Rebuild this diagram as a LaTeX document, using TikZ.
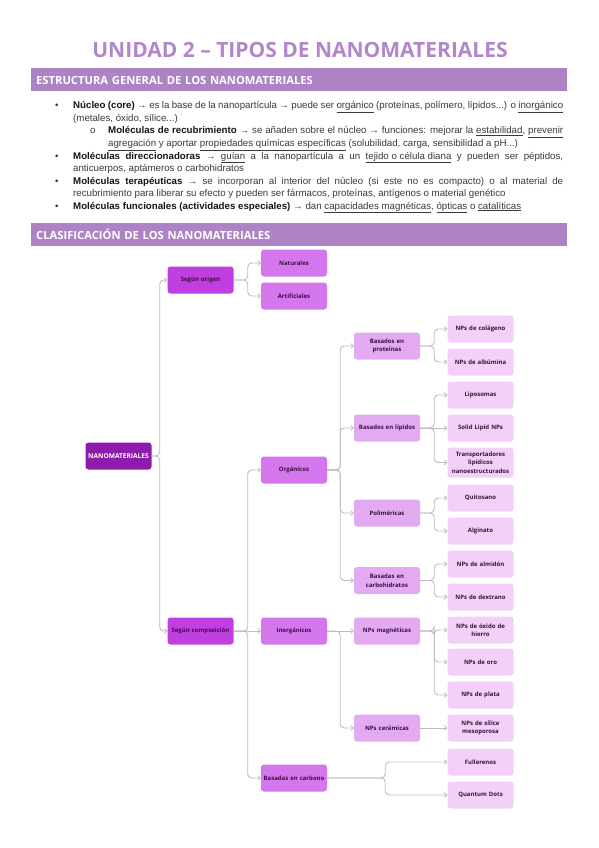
\documentclass[tikz,border=0pt]{standalone}
\usepackage{fontspec}
\setmainfont{Liberation Sans}
\newfontfamily\titlefont{Open Sans}
\newfontfamily\boxfont{Open Sans}
\usetikzlibrary{arrows.meta}
\definecolor{titlecol}{HTML}{B386CB}
\definecolor{barcol}{HTML}{AD83C6}
\definecolor{cA}{HTML}{8E1BAC}
\definecolor{cB}{HTML}{C13EE0}
\definecolor{cC}{HTML}{D577EC}
\definecolor{cD}{HTML}{E4AAF1}
\definecolor{cE}{HTML}{F3D0F7}
\definecolor{edgecol}{HTML}{BDBDBD}
\definecolor{txt}{HTML}{3A3A3A}
\definecolor{boldtxt}{HTML}{151515}
\definecolor{boxtxt}{HTML}{3B0F45}
\newcommand\myul[1]{\underline{#1}}
\newcommand\myb[1]{\textcolor{boldtxt}{\textbf{#1}}}
\begin{document}
\begin{tikzpicture}[x=1pt,y=-1pt,
  ln/.style={anchor=base west, inner sep=0pt, text=txt, font=\fontsize{9.7}{11}\selectfont},
  barbox/.style={anchor=west, fill=barcol, minimum height=23pt, text width=526pt, inner xsep=5pt, inner ysep=0pt, align=left, text=white, font=\titlefont\bfseries\fontsize{11.2}{13}\selectfont},
  box/.style={rounded corners=3pt, minimum width=66pt, minimum height=27pt, text width=64pt, align=center, inner sep=1pt, text=boxtxt, font=\boxfont\bfseries\fontsize{6}{8.5}\selectfont},
  lvA/.style={box, fill=cA, text=white, font=\boxfont\bfseries\fontsize{6.6}{8}\selectfont},
  lvB/.style={box, fill=cB},
  lvC/.style={box, fill=cC},
  lvD/.style={box, fill=cD},
  lvE/.style={box, fill=cE},
  edge/.style={draw=edgecol, line width=0.9pt, rounded corners=4pt, -{Straight Barb[length=2.2pt,width=4.6pt]}}
]
\fill[white] (0,0) rectangle (599,848);
\useasboundingbox (0,0) rectangle (599,848);

% title
\node[text=titlecol, font=\titlefont\bfseries\fontsize{21}{25}\selectfont, inner sep=0pt] (title) at (300,50) {UNIDAD 2 – TIPOS DE NANOMATERIALES};

% section bars
\node[barbox] (bar1) at (31,80) {ESTRUCTURA GENERAL DE LOS NANOMATERIALES};
\node[barbox] (bar2) at (31,234) {CLASIFICACIÓN DE LOS NANOMATERIALES};

% bullets
\node[ln] (d1) at (55,109) {\textbullet};
\node[ln] (l1) at (73,109) {\makebox[490pt][s]{\myb{Núcleo (core)} → es la base de la nanopartícula → puede ser \myul{orgánico} (proteínas, polímero, lípidos...) o \myul{inorgánico}}};
\node[ln] (l2) at (73,121.5) {(metales, óxido, sílice...) \textsuperscript{\tiny'}};
\node[ln] (d3) at (90,134) {o};
\node[ln] (l3) at (108,134) {\makebox[455pt][s]{\myb{Moléculas de recubrimiento} → se añaden sobre el núcleo → funciones: mejorar la \myul{estabilidad}, \myul{prevenir}}};
\node[ln] (l4) at (108,146.5) {\myul{agregación} y aportar \myul{propiedades químicas específicas} (solubilidad, carga, sensibilidad a pH...)};
\node[ln] (d5) at (55,159) {\textbullet};
\node[ln] (l5) at (73,159) {\makebox[490pt][s]{\myb{Moléculas direccionadoras} → \myul{guían} a la nanopartícula a un \myul{tejido o célula diana} y pueden ser péptidos,}};
\node[ln] (l6) at (73,171.5) {anticuerpos, aptámeros o carbohidratos};
\node[ln] (d7) at (55,184) {\textbullet};
\node[ln] (l7) at (73,184) {\makebox[490pt][s]{\myb{Moléculas terapéuticas} → se incorporan al interior del núcleo (si este no es compacto) o al material de}};
\node[ln] (l8) at (73,196.5) {recubrimiento para liberar su efecto y pueden ser fármacos, proteínas, antígenos o material genético};
\node[ln] (d9) at (55,209) {\textbullet};
\node[ln] (l9) at (73,209) {\myb{Moléculas funcionales (actividades especiales)} → dan \myul{capacidades magnéticas}, \myul{ópticas} o \myul{catalíticas}};

% tree nodes
\node[lvA] (root) at (118.5,456) {NANOMATERIALES};
\node[lvB] (orig) at (200.5,280) {Según origen};
\node[lvB] (comp) at (200.5,631) {Según composición};
\node[lvC] (nat) at (294,263) {Naturales};
\node[lvC] (art) at (294,296) {Artificiales};
\node[lvC] (org) at (294,470) {Orgánicos};
\node[lvC] (inorg) at (294,631) {Inorgánicos};
\node[lvC] (carb) at (294,778) {Basadas en carbono};
\node[lvD] (prot) at (387,346) {Basados en\\proteínas};
\node[lvD] (lip) at (387,428) {Basados en lípidos};
\node[lvD] (pol) at (387,513) {Poliméricas};
\node[lvD] (cho) at (387,580.5) {Basadas en\\carbohidratos};
\node[lvD] (mag) at (387,631) {NPs magnéticas};
\node[lvD] (cer) at (387,728) {NPs cerámicas};
\node[lvE] (colag) at (480.5,329) {NPs de colágeno};
\node[lvE] (albu) at (480.5,362) {NPs de albúmina};
\node[lvE] (lipo) at (480.5,395) {Liposomas};
\node[lvE] (sln) at (480.5,428) {Solid Lipid NPs};
\node[lvE, minimum height=30pt, font=\boxfont\bfseries\fontsize{6}{8.4}\selectfont] (nlc) at (480.5,462.5) {Transportadores\\lipídicos\\nanoestructurados};
\node[lvE] (quit) at (480.5,498) {Quitosano};
\node[lvE] (algi) at (480.5,531) {Alginato};
\node[lvE] (almi) at (480.5,564) {NPs de almidón};
\node[lvE] (dext) at (480.5,597) {NPs de dextrano};
\node[lvE] (oxid) at (480.5,630) {NPs de óxido de\\hierro};
\node[lvE] (oro) at (480.5,662) {NPs de oro};
\node[lvE] (plata) at (480.5,695) {NPs de plata};
\node[lvE] (sil) at (480.5,728) {NPs de sílice\\mesoporosa};
\node[lvE] (full) at (480.5,762) {Fullerenos};
\node[lvE] (qd) at (480.5,795) {Quantum Dots};

% connectors
\draw[edge] (root.east) -- ++(8,0) |- (orig.west);
\draw[edge] (root.east) -- ++(8,0) |- (comp.west);
\draw[edge] (orig.east) -- ++(14,0) |- (nat.west);
\draw[edge] (orig.east) -- ++(14,0) |- (art.west);
\draw[edge] (comp.east) -- ++(14,0) |- (org.west);
\draw[edge] (comp.east) -- (inorg.west);
\draw[edge] (comp.east) -- ++(14,0) |- (carb.west);
\draw[edge] (org.east) -- ++(13,0) |- (prot.west);
\draw[edge] (org.east) -- ++(13,0) |- (lip.west);
\draw[edge] (org.east) -- ++(13,0) |- (pol.west);
\draw[edge] (org.east) -- ++(13,0) |- (cho.west);
\draw[edge] (inorg.east) -- (mag.west);
\draw[edge] (inorg.east) -- ++(13,0) |- (cer.west);
\draw[edge] (prot.east) -- ++(14,0) |- (colag.west);
\draw[edge] (prot.east) -- ++(14,0) |- (albu.west);
\draw[edge] (lip.east) -- ++(14,0) |- (lipo.west);
\draw[edge] (lip.east) -- (sln.west);
\draw[edge] (lip.east) -- ++(14,0) |- (nlc.west);
\draw[edge] (pol.east) -- ++(14,0) |- (quit.west);
\draw[edge] (pol.east) -- ++(14,0) |- (algi.west);
\draw[edge] (cho.east) -- ++(14,0) |- (almi.west);
\draw[edge] (cho.east) -- ++(14,0) |- (dext.west);
\draw[edge] (mag.east) -- ++(14,0) |- (oxid.west);
\draw[edge] (mag.east) -- ++(14,0) |- (oro.west);
\draw[edge] (mag.east) -- ++(14,0) |- (plata.west);
\draw[edge] (cer.east) -- (sil.west);
\draw[edge] (carb.east) -- ++(58,0) |- (full.west);
\draw[edge] (carb.east) -- ++(58,0) |- (qd.west);
\end{tikzpicture}
\end{document}
